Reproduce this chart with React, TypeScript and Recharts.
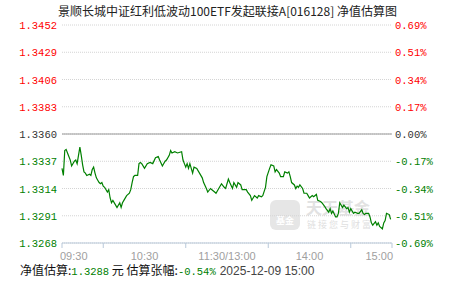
import React from 'react'
import { LineChart, Line, XAxis, YAxis, CartesianGrid, ReferenceLine } from 'recharts'

// minutes since 09:30 (lunch break removed, 240 = 15:00)
const minutes = [
  0, 1, 2, 3, 4, 6, 7, 9, 10, 11,
  12, 13, 14, 15, 16, 17, 18, 20, 21, 22,
  23, 24, 25, 26, 27, 28, 29, 30, 31, 33,
  34, 35, 36, 37, 39, 40, 42, 43, 44, 45,
  47, 49, 50, 51, 52, 53, 55, 56, 57, 58,
  60, 62, 64, 66, 68, 70, 71, 73, 75, 76,
  78, 79, 80, 82, 84, 87, 88, 89, 90, 91,
  92, 93, 95, 96, 98, 100, 102, 103, 105, 106,
  108, 109, 111, 112, 114, 116, 118, 119, 121, 122,
  124, 125, 127, 128, 130, 131, 134, 135, 137, 138,
  139, 140, 142, 143, 145, 146, 148, 149, 151, 152,
  154, 155, 156, 158, 159, 161, 162, 164, 165, 166,
  167, 169, 170, 171, 172, 173, 175, 176, 178, 179,
  180, 182, 183, 185, 186, 188, 189, 191, 192, 194,
  195, 196, 197, 199, 200, 201, 202, 204, 205, 207,
  208, 209, 210, 212, 213, 215, 216, 218, 219, 220,
  221, 223, 224, 225, 226, 228, 229, 230, 231, 233,
  234, 235, 236, 238, 239,
]

const navValues = [
  1.3331, 1.3325, 1.3346, 1.3347, 1.3344, 1.3338, 1.3333, 1.3337, 1.3338, 1.3335,
  1.3342, 1.3349, 1.3342, 1.3334, 1.3328, 1.3327, 1.3325, 1.3326, 1.3325, 1.3330,
  1.3332, 1.3327, 1.3323, 1.3321, 1.3319, 1.3318, 1.3319, 1.3316, 1.3315, 1.3311,
  1.3313, 1.3306, 1.3302, 1.3304, 1.3300, 1.3298, 1.3302, 1.3298, 1.3302, 1.3304,
  1.3308, 1.3310, 1.3313, 1.3319, 1.3324, 1.3325, 1.3325, 1.3335, 1.3336, 1.3335,
  1.3331, 1.3335, 1.3336, 1.3335, 1.3340, 1.3341, 1.3338, 1.3333, 1.3337, 1.3338,
  1.3342, 1.3346, 1.3344, 1.3345, 1.3344, 1.3345, 1.3338, 1.3335, 1.3332, 1.3335,
  1.3331, 1.3335, 1.3327, 1.3332, 1.3331, 1.3327, 1.3323, 1.3319, 1.3314, 1.3311,
  1.3314, 1.3313, 1.3311, 1.3310, 1.3314, 1.3318, 1.3315, 1.3314, 1.3322, 1.3319,
  1.3314, 1.3319, 1.3315, 1.3319, 1.3317, 1.3313, 1.3313, 1.3311, 1.3308, 1.3304,
  1.3306, 1.3308, 1.3306, 1.3308, 1.3307, 1.3308, 1.3315, 1.3324, 1.3331, 1.3334,
  1.3333, 1.3328, 1.3330, 1.3327, 1.3324, 1.3324, 1.3328, 1.3327, 1.3328, 1.3324,
  1.3319, 1.3317, 1.3314, 1.3316, 1.3315, 1.3317, 1.3314, 1.3310, 1.3310, 1.3308,
  1.3306, 1.3308, 1.3307, 1.3309, 1.3304, 1.3303, 1.3302, 1.3299, 1.3297, 1.3294,
  1.3297, 1.3293, 1.3295, 1.3290, 1.3290, 1.3293, 1.3302, 1.3298, 1.3300, 1.3297,
  1.3298, 1.3294, 1.3297, 1.3293, 1.3294, 1.3293, 1.3293, 1.3296, 1.3293, 1.3292,
  1.3293, 1.3293, 1.3290, 1.3285, 1.3283, 1.3286, 1.3283, 1.3285, 1.3282, 1.3280,
  1.3285, 1.3287, 1.3293, 1.3292, 1.3288,
]

const baseNav = 1.336
const yTicks = [1.3268, 1.3291, 1.3314, 1.3337, 1.336, 1.3383, 1.3406, 1.3429, 1.3452]
const pctLabels = ['-0.69%', '-0.51%', '-0.34%', '-0.17%', '0.00%', '0.17%', '0.34%', '0.51%', '0.69%']

const xTicks = [0, 30, 60, 90, 120, 150, 180, 210, 240]
const xMarkTicks = [0, 30, 90, 150, 210, 240]
const xLabelTicks = [0, 60, 120, 180, 240]
const xLabels = ['09:30', '10:30', '11:30/13:00', '14:00', '15:00']

const data = minutes.map((m, i) => ({ m, nav: navValues[i] }))

const MONO = '"Liberation Mono", "DejaVu Sans Mono", monospace'
const CJK = '"Noto Sans CJK SC", "Noto Sans", sans-serif'
const SANS = '"Liberation Sans", Arial, sans-serif'
const RED = '#ff0000'
const GREEN = '#008000'
const AXIS = '#b9c9da'

const colorFor = (v: number) => {
  if (v > baseNav + 1e-9) return RED
  if (v < baseNav - 1e-9) return GREEN
  return '#333333'
}

const YTick = (props: any) => {
  const { y, payload } = props
  const v = payload.value
  const idx = yTicks.findIndex((t) => Math.abs(t - v) < 1e-9)
  const fill = colorFor(v)
  return (
    <g>
      <text x={57} y={y} dy={4} textAnchor="end" fill={fill} fontFamily={MONO} fontSize={10.5}>
        {v.toFixed(4)}
      </text>
      <text x={395} y={y} dy={4} textAnchor="start" fill={fill} fontFamily={MONO} fontSize={10.5}>
        {pctLabels[idx]}
      </text>
    </g>
  )
}

const XTick = (props: any) => {
  const { x, y, payload } = props
  const v = payload.value
  const li = xLabelTicks.indexOf(v)
  const anchor = v === 0 ? 'start' : v === 240 ? 'end' : 'middle'
  const tx = v === 0 ? x - 2 : v === 240 ? x + 1 : x
  return (
    <g>
      {xMarkTicks.includes(v) && <line x1={x} x2={x} y1={y} y2={y + 5} stroke={AXIS} />}
      {li >= 0 && (
        <text x={tx} y={y + 17} textAnchor={anchor} fill="#a0a0a0" fontFamily={SANS} fontSize={11}>
          {xLabels[li]}
        </text>
      )}
    </g>
  )
}

export default function App() {
  return (
    <div style={{ position: 'absolute', left: 0, top: 0, width: 451, height: 281, background: '#fff', overflow: 'hidden' }}>
      <div
        style={{
          position: 'absolute', left: 58, top: 3, fontFamily: CJK, fontSize: 12,
          color: '#222', whiteSpace: 'nowrap', lineHeight: '16px',
        }}
      >
        景顺长城中证红利低波动100ETF发起联接A[016128] 净值估算图
      </div>

      {/* watermark */}
      <div style={{ position: 'absolute', left: 270, top: 200, width: 30, height: 30, borderRadius: 6, background: '#e6e6e6' }}>
        <div style={{ position: 'absolute', left: 0, right: 0, bottom: 3, textAlign: 'center', fontFamily: CJK, fontSize: 9, color: '#fff', fontWeight: 700 }}>基金</div>
      </div>
      <div style={{ position: 'absolute', left: 306, top: 197, fontFamily: CJK, fontSize: 16, fontWeight: 700, color: '#e2e2e2', lineHeight: '20px', whiteSpace: 'nowrap' }}>
        天天基金
      </div>
      <div style={{ position: 'absolute', left: 307, top: 219, fontFamily: CJK, fontSize: 9, letterSpacing: 2, color: '#e0e0e0', lineHeight: '12px', whiteSpace: 'nowrap' }}>
        链接您与财富
      </div>

      <div style={{ position: 'absolute', left: 0, top: 0 }}>
        <LineChart width={451} height={281} data={data} margin={{ top: 25, right: 59, left: 0, bottom: 18 }}>
          <CartesianGrid horizontal vertical={false} stroke="#d4d4d4" strokeDasharray="1 1" />
          <XAxis
            dataKey="m"
            type="number"
            domain={[0, 240]}
            ticks={xTicks}
            height={20}
            tickLine={false}
            tickSize={0}
            tickMargin={0}
            axisLine={{ stroke: AXIS }}
            tick={<XTick />}
            interval={0}
          />
          <YAxis
            type="number"
            domain={[1.3268, 1.3452]}
            ticks={yTicks}
            width={62}
            axisLine={false}
            tickLine={false}
            tick={<YTick />}
            interval={0}
            allowDataOverflow
          />
          <ReferenceLine y={baseNav} stroke="#9a9a9a" strokeWidth={1} />
          <Line
            type="linear"
            dataKey="nav"
            stroke={GREEN}
            strokeWidth={1.2}
            dot={false}
            activeDot={false}
            isAnimationActive={false}
          />
        </LineChart>
      </div>

      <div
        style={{
          position: 'absolute', left: 20, top: 263, fontFamily: CJK, fontSize: 12,
          color: '#111', whiteSpace: 'nowrap', lineHeight: '14px',
        }}
      >
        净值估算:<span style={{ fontFamily: MONO, fontSize: 10.5, color: GREEN }}>1.3288</span> 元 估算张幅:
        <span style={{ fontFamily: MONO, fontSize: 10.5, color: GREEN }}>-0.54%</span>
        <span style={{ fontFamily: SANS, fontSize: 12, color: '#444', marginLeft: 4 }}>2025-12-09 15:00</span>
      </div>
    </div>
  )
}
